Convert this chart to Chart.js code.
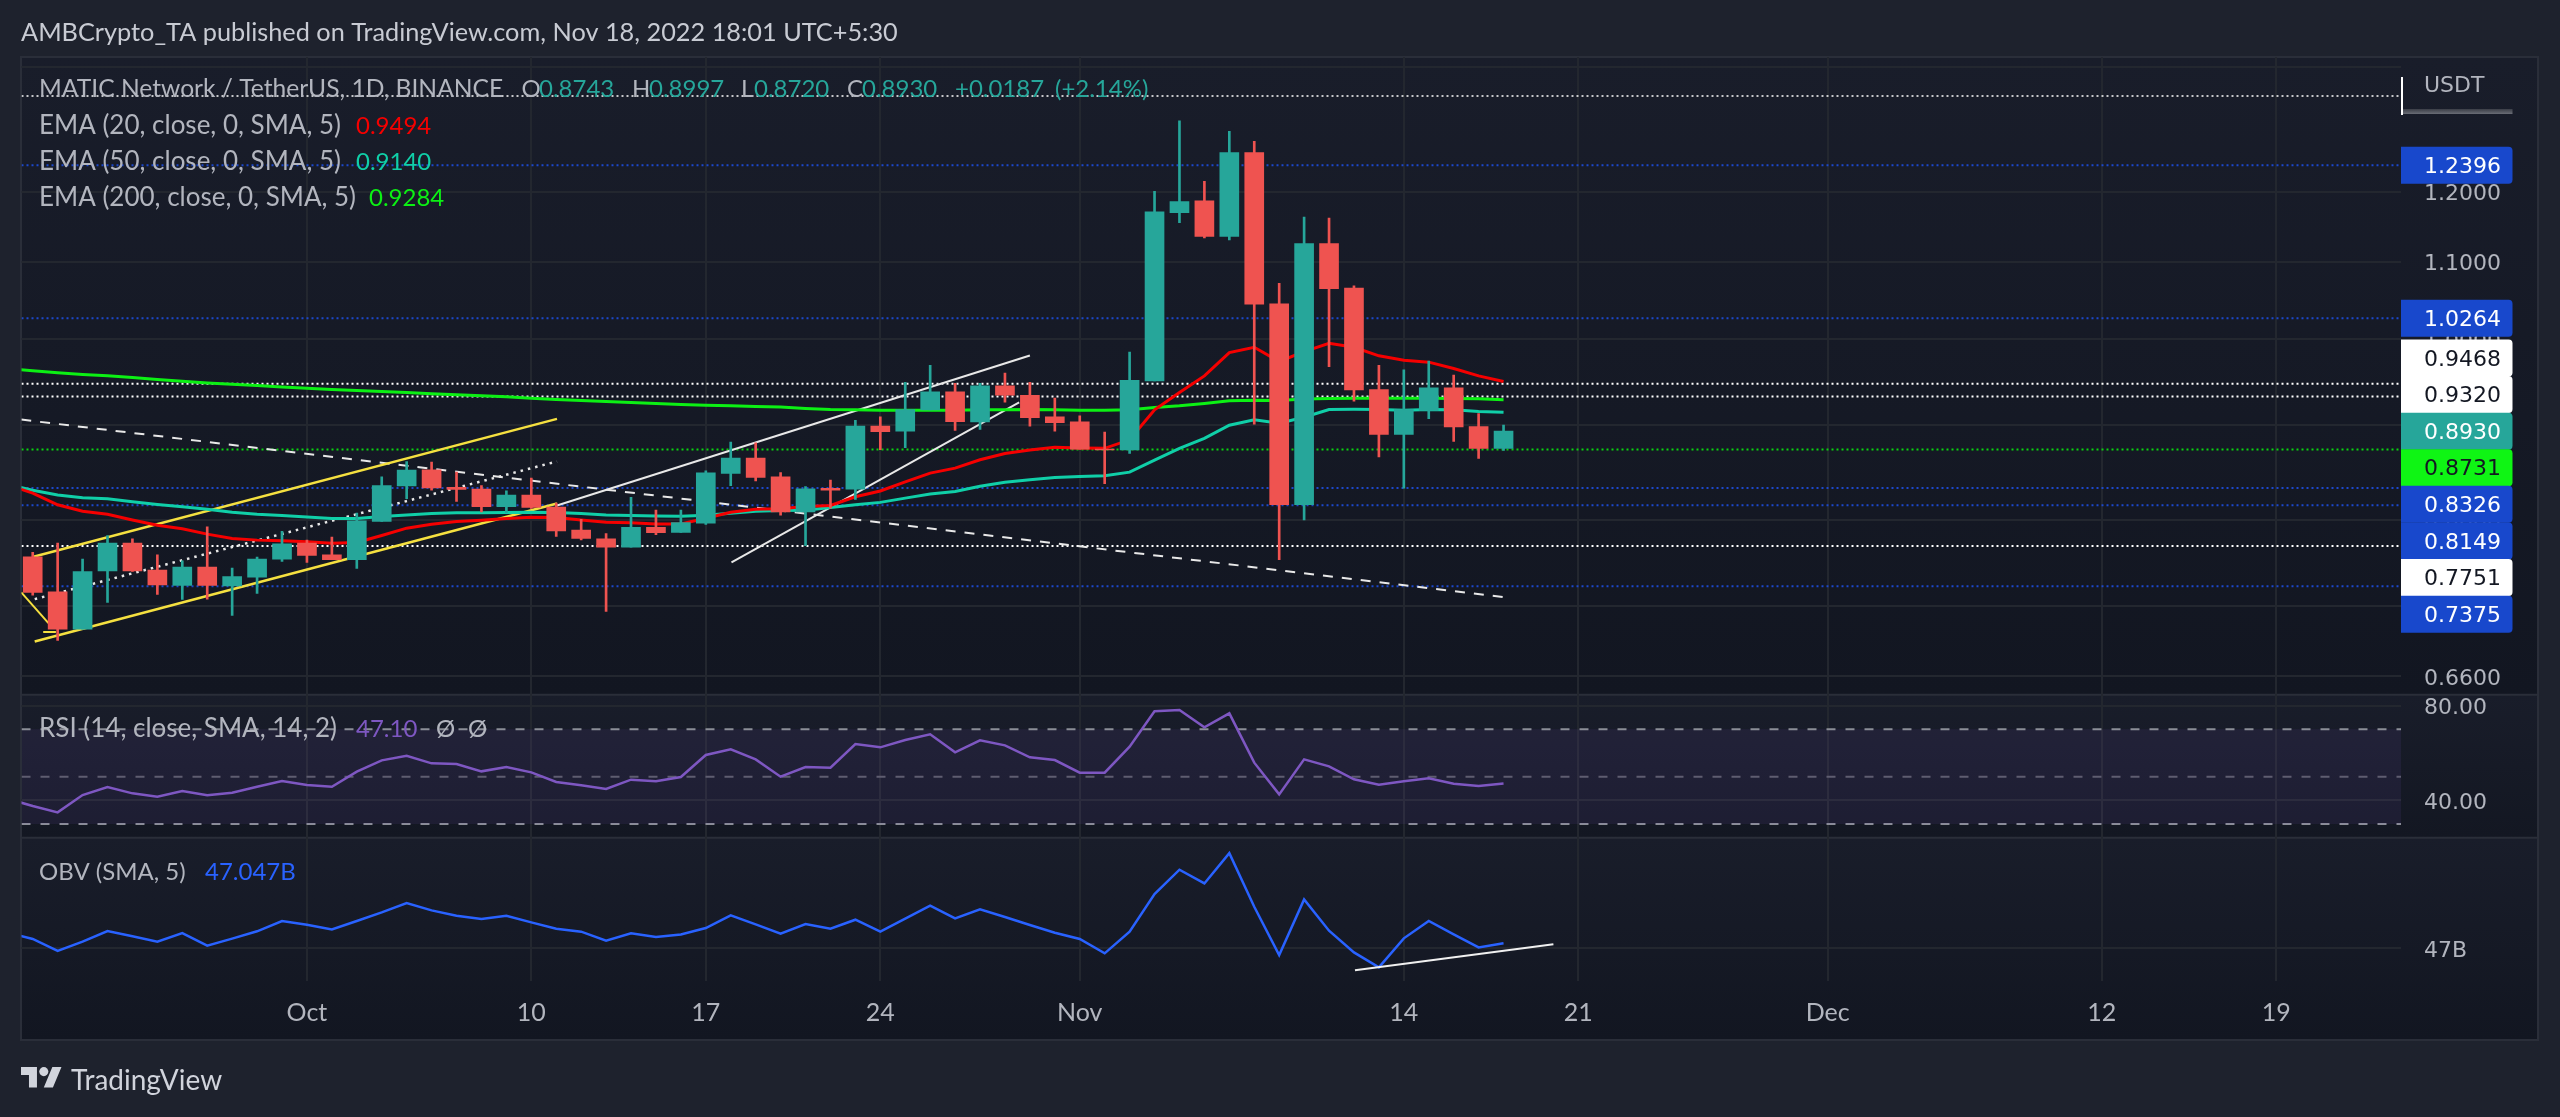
<!DOCTYPE html>
<html><head><meta charset="utf-8">
<style>html,body{margin:0;padding:0;background:#1e222d}canvas{display:block}</style>
<script src="https://cdn.jsdelivr.net/npm/chart.js@4"></script>
</head><body><canvas id="c" width="2560" height="1117"></canvas>
<script>
// --- data (day 0 = Sep 20 2022) ---
const open  = [.7648,.7325,.6996,.7517,.7778,.7523,.7382,.7551,.7379,.7458,.7626,.7778,.7666,.7620,.7988,.8347,.8515,.8333,.8313,.8135,.8253,.8132,.7904,.7820,.7739,.7930,.7881,.7972,.8476,.8637,.8441,.8084,.8323,.8313,.8985,.8930,.9168,.9374,.9033,.9442,.9332,.9088,.9033,.8736,.8725,.9501,1.1692,1.1863,1.1353,1.2590,1.0448,.8155,1.1254,1.0652,.9400,.8894,.9160,.9419,.8981,.8743];
const high  = [.7691,.7778,.7626,.7852,.7820,.7666,.7610,.7936,.7542,.7645,.7891,.7807,.7836,.8071,.8441,.8602,.8595,.8490,.8350,.8296,.8427,.8172,.8011,.7871,.8229,.8101,.8101,.8504,.8810,.8802,.8486,.8340,.8406,.9051,.9088,.9485,.9684,.9473,.9473,.9592,.9485,.9301,.9099,.8919,.9846,1.2005,1.3092,1.2152,1.2927,1.2768,1.0716,1.1629,1.1615,1.0682,.9684,.9632,.9735,.9568,.9126,.8997];
const low   = [.7295,.6899,.6996,.7230,.7511,.7301,.7256,.7259,.7114,.7310,.7604,.7595,.7620,.7539,.7988,.8216,.8303,.8189,.8084,.8077,.8118,.7842,.7810,.7149,.7739,.7859,.7881,.7959,.8350,.8399,.8050,.7755,.8121,.8209,.8729,.8751,.9168,.8938,.8949,.9256,.8985,.8930,.8733,.8370,.8687,.9501,1.1549,1.1334,1.1306,.9007,.7620,.8004,.9668,.9267,.8651,.8323,.9069,.8817,.8634,.8720];
const close = [.7319,.6996,.7511,.7778,.7517,.7388,.7551,.7382,.7464,.7626,.7771,.7660,.7620,.7995,.8350,.8511,.8327,.8310,.8135,.8253,.8128,.7897,.7823,.7739,.7930,.7878,.7978,.8483,.8637,.8434,.8084,.8317,.8303,.8985,.8923,.9172,.9374,.9036,.9442,.9336,.9080,.9025,.8733,.8725,.9509,1.1702,1.1853,1.1353,1.2590,1.0444,.8155,1.1254,1.0647,.9397,.8894,.9172,.9419,.8978,.8743,.8930];
// line series start one day before the first candle (day -1)
const ema20  = [.8357,.8273,.8155,.8091,.8060,.8004,.7952,.7917,.7865,.7823,.7807,.7800,.7791,.7778,.7784,.7852,.7923,.7962,.7988,.8001,.8017,.8030,.8027,.8004,.7982,.7975,.7965,.7965,.8020,.8080,.8111,.8114,.8138,.8148,.8236,.8295,.8388,.8480,.8532,.8620,.8687,.8725,.8754,.8747,.8743,.8835,.9168,.9366,.9560,.9838,.9903,.9731,.9850,.9953,.9903,.9799,.9747,.9723,.9648,.9560,.9494];
const ema50  = [.8360,.8303,.8253,.8225,.8216,.8185,.8158,.8135,.8111,.8080,.8060,.8047,.8033,.8017,.8017,.8037,.8053,.8067,.8074,.8074,.8077,.8080,.8077,.8067,.8053,.8047,.8043,.8040,.8050,.8071,.8091,.8098,.8101,.8128,.8155,.8179,.8222,.8263,.8290,.8344,.8385,.8410,.8434,.8445,.8452,.8490,.8616,.8743,.8850,.8996,.9055,.9018,.9084,.9172,.9175,.9172,.9164,.9172,.9168,.9149,.9140];
const ema200 = [.9644,.9620,.9596,.9576,.9561,.9541,.9517,.9497,.9477,.9461,.9446,.9431,.9416,.9400,.9389,.9377,.9366,.9351,.9339,.9328,.9316,.9301,.9286,.9274,.9263,.9252,.9240,.9229,.9221,.9214,.9206,.9199,.9183,.9172,.9168,.9164,.9164,.9164,.9164,.9168,.9168,.9172,.9168,.9164,.9164,.9168,.9195,.9214,.9240,.9271,.9278,.9274,.9290,.9297,.9301,.9301,.9301,.9301,.9297,.9293,.9284];
const rsi = [40.69,37.59,34.91,42.24,45.62,42.95,41.54,43.93,42.10,43.23,45.76,48.16,46.47,45.76,52.11,56.90,58.87,55.63,55.35,52.25,54.08,51.82,47.74,46.33,44.78,48.72,48.02,49.85,59.15,61.55,57.32,49.99,54.08,53.80,63.81,62.40,65.50,67.89,60.28,65.36,63.24,58.17,57.04,51.68,51.68,62.68,77.62,78.18,70.85,76.77,55.91,42.52,57.32,54.36,48.87,46.61,48.02,49.29,47.03,46.05,47.10];
const obv = [47.147,47.088,46.975,47.063,47.163,47.113,47.063,47.144,47.025,47.091,47.160,47.257,47.222,47.178,47.257,47.338,47.426,47.357,47.307,47.275,47.307,47.244,47.185,47.157,47.072,47.141,47.106,47.131,47.191,47.310,47.225,47.138,47.228,47.185,47.269,47.157,47.279,47.401,47.282,47.366,47.294,47.219,47.147,47.088,46.953,47.157,47.510,47.739,47.610,47.895,47.391,46.937,47.460,47.166,46.962,46.822,47.094,47.257,47.131,47.009,47.047];
// axis ticks
const timeTickDays   = [11,20,27,34,42,55,62,72,83,90];
const timeTickLabels = ['Oct','10','17','24','Nov','14','21','Dec','12','19'];
const priceTicks = [1.4,1.2,1.1,1.0,0.9,0.8,0.72,0.66];
const priceTickLabels = ['','1.2000','1.1000','1.0000','0.9000','0.8000','0.7200','0.6600'];
const rsiTicks = [80,40];
const obvTicks = [47];
const rsiBands = [70,50,30];
// drawn horizontal levels
const whiteLevels = [.9468,.9320,.7751];
const blueLevels  = [1.2396,1.0264,.8326,.8149,.7375];
const greenLevels = [.8731];
const topLevel    = [1.35];
// drawn trend lines: [day, price]
const yellowUpper = [[0.03,.7648],[21.03,.9066]];
const yellowLower = [[0.08,.6890],[21.03,.8168]];
const yellowShort = [[-0.46,.7320],[0.63,.7047]];
const yellowMark  = [[0.42,.6970],[0.93,.6970]];
const whiteDotted = [[0.08,.7259],[21.03,.8603]];
const whiteDashed = [[-0.46,.9058],[58.97,.7278]];
const whiteUpper  = [[21.03,.8148],[40.0,.9803]];
const whiteLower  = [[28.03,.7595],[39.57,.9252]];
const obvSupport  = [[53.04,46.793],[61.0,47.038]];
// price tags: text value, background, foreground, slot in the stacked block (null = at its own price)
const tagValues = [1.2396,1.0264,.9468,.9320,.8930,.8731,.8326,.8149,.7751,.7375];
const tagSlots  = [null,null,-2,-1,0,1,2,3,4,5];
const tagFills  = ['#1848cc','#1848cc','#ffffff','#ffffff','#26a69a','#0ff514','#1848cc','#1848cc','#ffffff','#1848cc'];
const tagInks   = ['#ffffff','#ffffff','#131722','#131722','#ffffff','#131722','#ffffff','#ffffff','#131722','#ffffff'];

// --- style ---
const UP='#26a69a', DOWN='#ef5350', INK='#b2b5be', XMIN=-0.45, XMAX=95;
const SANS="Lato", AXIS="'DejaVu Sans'";
const isUp = i => close[i] >= open[i];
const candleColor = ctx => isUp(ctx.dataIndex) ? UP : DOWN;
const line = (label,pts,yAxisID,color,width,dash,order) => ({type:'line',label,yAxisID,xAxisID:'x',order,
  data:pts.map(([x,y])=>({x,y})),borderColor:color,borderWidth:width,borderDash:dash||[],pointRadius:0,tension:0,fill:false,borderCapStyle:'butt'});
const daily = arr => arr.map((v,i)=>[i-1,v]);
const level = v => [[XMIN,v],[XMAX,v]];

const datasets = [
  {type:'bar',label:'Wick',yAxisID:'y',xAxisID:'x',order:1,barThickness:2,grouped:false,
   data:low.map((l,i)=>({x:i,y:[l,high[i]]})),backgroundColor:candleColor,borderWidth:0},
  {type:'bar',label:'Body',yAxisID:'y',xAxisID:'x',order:0,barThickness:19,grouped:false,
   data:open.map((o,i)=>({x:i,y:[o,close[i]]})),backgroundColor:candleColor,borderWidth:0},
  line('EMA 20',daily(ema20),'y','#f50000',3,null,3),
  line('EMA 50',daily(ema50),'y','#10cfa8',3,null,3),
  line('EMA 200',daily(ema200),'y','#0cf014',3,null,3),
  line('Yellow upper',yellowUpper,'y','#f5e040',2.5,null,4),
  line('Yellow lower',yellowLower,'y','#f5e040',2.5,null,4),
  line('Yellow short',yellowShort,'y','#f5e040',2,null,4),
  line('Yellow mark',yellowMark,'y','#f5e040',2,null,4),
  line('White dotted',whiteDotted,'y','#e8e8e8',2.5,[2.5,5],4),
  line('White dashed',whiteDashed,'y','#e8e8e8',2,[10,9],4),
  line('White upper',whiteUpper,'y','#e8e8e8',2,null,4),
  line('White lower',whiteLower,'y','#e8e8e8',2,null,4),
  ...whiteLevels.map(v=>line('White level',level(v),'y','#ffffff',2,[2,3],6)),
  ...blueLevels.map(v=>line('Blue level',level(v),'y','#1c48cc',2,[2,3],6)),
  ...greenLevels.map(v=>line('Green level',level(v),'y','#0ad40f',2,[2,3],6)),
  ...topLevel.map(v=>line('Top level',level(v),'y','#ffffff',1.5,[2,3],6)),
  Object.assign(line('RSI upper band',level(rsiBands[0]),'yRsi','#8b8e97',2,[9,10],7),{fill:{value:rsiBands[2]},backgroundColor:'rgba(126,87,194,0.10)'}),
  line('RSI middle band',level(rsiBands[1]),'yRsi','#5b5e67',2,[9,10],7),
  line('RSI lower band',level(rsiBands[2]),'yRsi','#8b8e97',2,[9,10],7),
  line('RSI',daily(rsi),'yRsi','#7e57c2',2.5,null,3),
  line('OBV',daily(obv),'yObv','#2962ff',2.5,null,3),
  line('OBV support',obvSupport,'yObv','#f0f0f0',2,null,2),
];

function text(g,s,x,y,color,font,align){
  g.font=font; g.fillStyle=color; g.textAlign=align||'left'; g.textBaseline='middle'; g.fillText(s,x,y);
}
const painter = {
  id:'painter',
  beforeDraw(c){
    const g=c.ctx, {y,yRsi,yObv,x}=c.scales, L=21, R=2538;
    // axis captions sit a little under their grid lines
    [y,yRsi,yObv].forEach(s=>s.getLabelItems().forEach(it=>{it.options.translation[1]+=2.5}));
    g.save();
    g.fillStyle='#1e222d'; g.fillRect(0,0,2560,1117);
    const pane=(t,b,c0,c1)=>{const gr=g.createLinearGradient(0,t,0,b);gr.addColorStop(0,c0);gr.addColorStop(1,c1);g.fillStyle=gr;g.fillRect(L,t,R-L,b-t);};
    pane(y.top,y.bottom,'#191d2a','#121621');
    pane(yRsi.top,yRsi.bottom,'#191d2a','#131722');
    pane(yObv.top,x.bottom,'#191d2a','#121621');
    g.strokeStyle='#2a2e39'; g.lineWidth=2;
    g.strokeRect(L,y.top,R-L,x.bottom-y.top);
    g.beginPath();
    g.moveTo(L,y.bottom);g.lineTo(R,y.bottom);
    g.moveTo(L,yRsi.bottom);g.lineTo(R,yRsi.bottom);
    g.stroke();
    g.restore();
  },
  afterDraw(c){
    const g=c.ctx, {y}=c.scales, A=c.chartArea.right;
    g.save();
    // price tags
    const anchor=y.getPixelForValue(tagValues[tagSlots.indexOf(0)]), H=37, W=111.5;
    tagValues.forEach((v,i)=>{
      const cy=tagSlots[i]===null?y.getPixelForValue(v):anchor+tagSlots[i]*36.6;
      g.fillStyle=tagFills[i]; g.beginPath(); g.roundRect(A,cy-H/2,W,H,[0,4,4,0]); g.fill();
      text(g,v.toFixed(4),A+23,cy+2,tagInks[i],"22px "+AXIS);
    });
    // currency header
    text(g,'USDT',A+23,86,INK,"22px "+AXIS);
    const hb=g.createLinearGradient(0,109,0,114);hb.addColorStop(0,'#3a3d46');hb.addColorStop(1,'#6a6d76');
    g.fillStyle=hb; g.fillRect(A,109,W,5);
    g.fillStyle='#ffffff'; g.fillRect(A,77,2,38);
    // top caption
    const T="25.3px "+SANS, F="26px "+SANS, N="24px "+SANS, V='#26a69a';
    text(g,'AMBCrypto_TA published on TradingView.com, Nov 18, 2022 18:01 UTC+5:30',21,33,'#c8cbd3',T);
    // main legend
    text(g,'MATIC Network / TetherUS, 1D, BINANCE',39,89,INK,"24.6px "+SANS);
    [['O',521.5,'0.8743',539],['H',632,'0.8997',649],['L',741,'0.8720',754],['C',847,'0.8930',862]].forEach(a=>{
      text(g,a[0],a[1],89,INK,N); text(g,a[2],a[3],89,V,N);
    });
    text(g,'+0.0187',955,89,V,N); text(g,'(+2.14%)',1055,89,V,N);
    text(g,'EMA (20, close, 0, SMA, 5)',39,126,INK,F); text(g,'0.9494',356,126,'#f50000',N);
    text(g,'EMA (50, close, 0, SMA, 5)',39,162,INK,F); text(g,'0.9140',356,162,'#10cfa8',N);
    text(g,'EMA (200, close, 0, SMA, 5)',39,198,INK,F); text(g,'0.9284',369,198,'#0cf014',N);
    text(g,'RSI (14, close, SMA, 14, 2)',39,729,INK,F); text(g,'47.10',356,729,'#7e57c2',N);
    text(g,'Ø',436,729,INK,N); text(g,'Ø',468,729,INK,N);
    text(g,'OBV (SMA, 5)',39,872,INK,N); text(g,'47.047B',205,872,'#2962ff',N);
    // brand
    const s=1.14, p=new Path2D('M14 22H7V11H0V4h14v18zM28 22h-8l7.5-18h8L28 22z');
    g.save(); g.translate(21,1062.5); g.scale(s,s); g.fillStyle='#d1d4dc'; g.fill(p);
    g.beginPath(); g.arc(20,8,4,0,Math.PI*2); g.fill(); g.restore();
    text(g,'TradingView',71,1081,'#d1d4dc',"28px "+SANS);
    g.restore();
  }
};
const yAxis = (o,ticksList,fmt) => Object.assign({
  position:'right',stack:'panes',bounds:'data',beginAtZero:false,
  afterFit:s=>{s.width=137},
  afterBuildTicks:s=>{s.ticks=ticksList.map(value=>({value}))},
  grid:{color:'#23272f',lineWidth:2,drawTicks:false},
  border:{display:false},
  ticks:{autoSkip:false,padding:23,crossAlign:'near',color:INK,font:{family:'DejaVu Sans',size:22},callback:fmt}
},o);
new Chart(document.getElementById('c'),{
  type:'bar',
  data:{datasets},
  plugins:[painter],
  options:{
    responsive:false,animation:false,devicePixelRatio:1,events:[],
    layout:{padding:{top:57,left:21.5,right:22,bottom:77}},
    plugins:{legend:{display:false},title:{display:false},tooltip:{enabled:false}},
    scales:{
      x:{type:'linear',position:'bottom',min:XMIN,max:XMAX,bounds:'data',offset:false,
         afterFit:s=>{s.height=59},
         afterBuildTicks:s=>{s.ticks=timeTickDays.map(value=>({value}))},
         grid:{offset:false,color:'#23272f',lineWidth:2,drawTicks:false},
         border:{display:false},
         ticks:{autoSkip:false,maxRotation:0,padding:17,color:INK,font:{family:SANS,size:25},
           callback:v=>timeTickLabels[timeTickDays.indexOf(v)]}},
      y:yAxis({type:'logarithmic',min:.6452,max:1.4166,stackWeight:637.7,weight:0},priceTicks,v=>priceTickLabels[priceTicks.indexOf(v)]),
      yRsi:yAxis({type:'linear',min:24.2,max:84.65,stackWeight:143,weight:1},rsiTicks,v=>v.toFixed(2)),
      yObv:yAxis({type:'linear',min:46.693,max:48.04,stackWeight:143.3,weight:2},obvTicks,v=>v+'B')
    }
  }
});
</script></body></html>
